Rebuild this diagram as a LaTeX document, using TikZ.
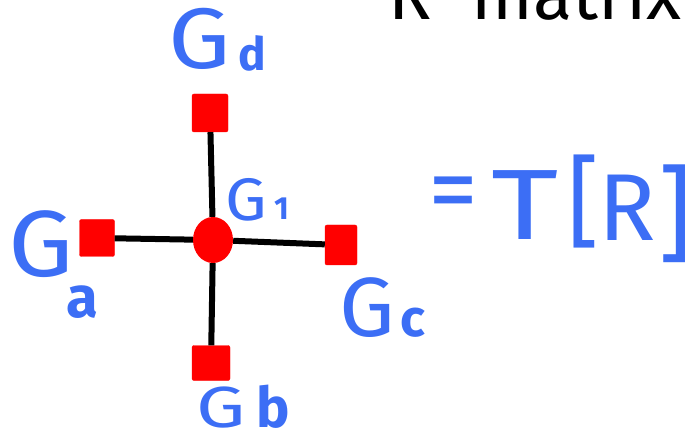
\documentclass[tikz,border=0pt]{standalone}
\usepackage{fontspec}
\setmainfont{Fira Sans}
\usetikzlibrary{shapes.geometric}
\definecolor{inkblue}{RGB}{60,110,245}
\definecolor{inkred}{RGB}{255,0,0}
\newcommand{\fs}[1]{\fontsize{#1}{#1}\selectfont}
\newcommand{\wideG}[1]{\scalebox{#1}[1]{G}}
\tikzset{
  sq/.style={rectangle, fill=inkred, draw=inkred, rounded corners=2pt, inner sep=0pt},
  hub/.style={ellipse, fill=inkred, inner sep=0pt, minimum width=40pt, minimum height=46pt},
  bond/.style={line width=6pt, black},
  lbl/.style={inkblue, inner sep=0pt, anchor=base west},
  sub/.style={inkblue, inner sep=0pt, anchor=base west, font=\bfseries},
  ink/.style={black, inner sep=0pt, anchor=base west}
}
\begin{document}
\begin{tikzpicture}[x=1pt,y=-1pt]
\useasboundingbox (0,0) rectangle (696,438);
\clip (0,0) rectangle (696,438);
\node[sq, minimum width=36pt, minimum height=38pt] (gd) at (210,113) {};
\node[sq, minimum width=35pt, minimum height=37pt] (ga) at (97,238) {};
\node[sq, minimum width=32pt, minimum height=40pt] (gc) at (341,245) {};
\node[sq, minimum width=38pt, minimum height=35pt] (gb) at (211,363) {};
\node[hub] (g1) at (213,240) {};
\draw[bond] (g1) -- (gd);
\draw[bond] (g1) -- (ga);
\draw[bond] (g1) -- (gc);
\draw[bond] (g1) -- (gb);
% labels
\node[lbl] (ldG) at (168,69) {\fs{86}\wideG{1.15}};
\node[sub] (ldd) at (238,71) {\fs{46}d};
\node[lbl] (laG) at (8,277) {\fs{94}\wideG{1.1}};
\node[sub] (laa) at (66,318) {\fs{58}a};
\node[lbl] (l1G) at (225,221) {\fs{60}\wideG{1.1}};
\node[sub] (l11) at (274,220) {\fs{32}1};
\node[lbl] (lcG) at (339,337) {\fs{84}\wideG{1.05}};
\node[sub] (lcc) at (400,337) {\fs{52}c};
\node[lbl] (lbG) at (196,427) {\fs{58}\wideG{1.35}};
\node[sub] (lbb) at (256,427) {\fs{56}b};
\node[lbl] (eqs) at (453,200) [anchor=center] {\fs{100}=};
\node[lbl] (eqT) at (525,205) [anchor=center] {\fs{100}\scalebox{1.3}[1]{T}};
\node[lbl] (eqL) at (584,202) [anchor=center] {\fs{100}[};
\node[lbl] (eqR) at (627,208) [anchor=center] {\fs{95}R};
\node[lbl] (eqK) at (675,214) [anchor=center] {\fs{105}]};
\node[ink] (top) at (388,20) {\fs{72}R\hspace{40pt}matrix};
\end{tikzpicture}
\end{document}
